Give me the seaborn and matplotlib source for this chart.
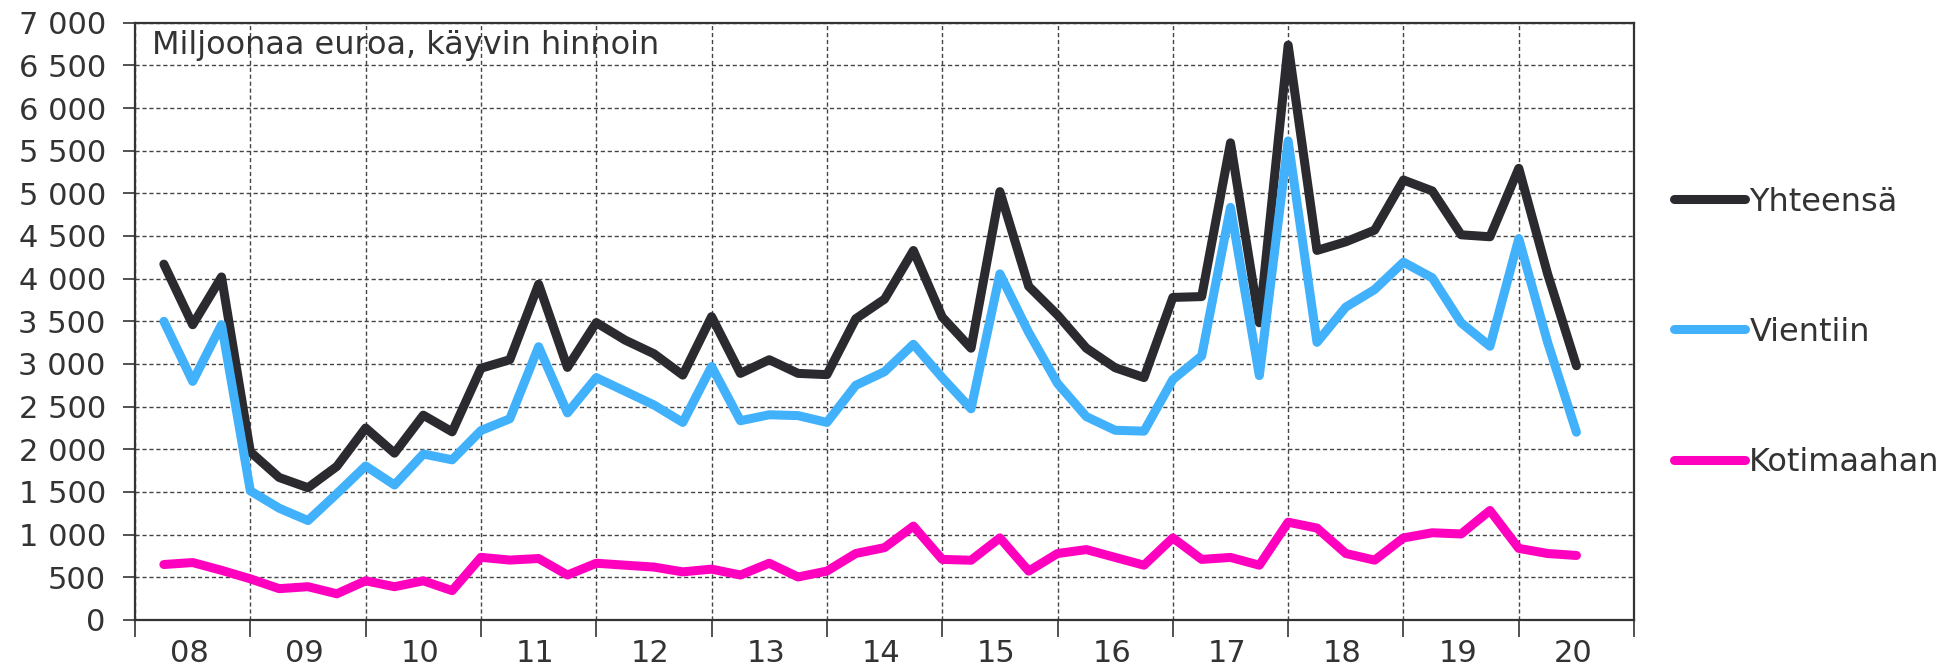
import numpy as np
import pandas as pd
import matplotlib
matplotlib.use("Agg")
import matplotlib.pyplot as plt
import seaborn as sns

# vuosineljännekset 2008Q1 - 2020Q2, milj. euroa
years = ["08", "09", "10", "11", "12", "13", "14", "15", "16", "17", "18", "19", "20"]

yhteensa = [4170, 3460, 4020, 1970, 1670, 1550, 1800, 2250, 1955, 2400,
            2205, 2950, 3050, 3935, 2960, 3485, 3280, 3120, 2870, 3555,
            2890, 3050, 2890, 2875, 3530, 3760, 4330, 3550, 3185, 5020,
            3910, 3575, 3185, 2956, 2841, 3780, 3790, 5592, 3483, 6737,
            4331, 4432, 4569, 5156, 5028, 4514, 4491, 5293, 4056, 2979]

vientiin = [3500, 2796, 3460, 1513, 1310, 1165, 1480, 1805, 1582, 1945,
            1877, 2220, 2358, 3202, 2427, 2840, 2680, 2520, 2315, 2970,
            2335, 2405, 2395, 2315, 2750, 2910, 3231, 2840, 2475, 4056,
            3369, 2772, 2383, 2223, 2213, 2818, 3094, 4835, 2864, 5614,
            3254, 3667, 3873, 4193, 4010, 3483, 3208, 4469, 3254, 2200]

kotimaahan = [650, 673, 582, 482, 367, 390, 307, 459, 390, 459,
              344, 734, 702, 720, 527, 665, 642, 620, 564, 596,
              527, 665, 504, 573, 779, 848, 1100, 710, 700, 962,
              573, 779, 825, 733, 642, 962, 710, 733, 642, 1146,
              1077, 779, 701, 962, 1022, 1008, 1283, 839, 779, 756]

series = ["Yhteensä", "Vientiin", "Kotimaahan"]
colors = ["#2a2a2f", "#42b1fb", "#ff00bf"]

x = np.arange(1, len(yhteensa) + 1)
df = pd.DataFrame({"x": x, "Yhteensä": yhteensa, "Vientiin": vientiin,
                   "Kotimaahan": kotimaahan})
df = df.melt(id_vars="x", var_name="sarja", value_name="arvo")

sns.set_style("white")
plt.rcParams['font.family'] = ['DejaVu Sans']

fig = plt.figure(figsize=(19.57, 6.67), dpi=100)
ax = fig.add_axes([0.069, 0.0705, 0.766, 0.8955])

sns.lineplot(data=df, x="x", y="arvo", hue="sarja", hue_order=series,
             palette=colors, linewidth=6.5, ax=ax, legend=False,
             solid_capstyle="round")

ax.set_xlim(0, 4 * len(years))
ax.set_ylim(0, 7000)
ax.set_xlabel("")
ax.set_ylabel("")

# y-akseli
yt = np.arange(0, 7001, 500)
ax.set_yticks(yt)
ax.set_yticklabels([f"{v:,}".replace(",", " ") for v in yt])
ax.tick_params(axis="y", which="major", direction="out", length=9, width=1.2,
               color="#333333", labelsize=22, labelcolor="#333333", pad=12, left=True)

# x-akseli: vuosirajat ja vuosien nimet
ax.set_xticks(np.arange(0, 4 * len(years) + 1, 4))
ax.set_xticklabels([])
ax.set_xticks(np.arange(1.88, 4 * len(years), 4), minor=True)
ax.set_xticklabels(years, minor=True)
ax.tick_params(axis="x", which="major", direction="out", length=12, width=1.2,
               color="#333333", bottom=True)
ax.tick_params(axis="x", which="minor", length=0, labelsize=22,
               labelcolor="#333333", pad=14)

ax.grid(True, which="major", axis="both", linestyle=(0, (3, 2)),
        color="#444444", linewidth=1)
for s in ax.spines.values():
    s.set_color("#333333")
    s.set_linewidth(1.6)

ax.text(0.011, 0.962, "Miljoonaa euroa, käyvin hinnoin", transform=ax.transAxes,
        fontsize=23, color="#333333", va="center", ha="left")

handles = [plt.Line2D([], [], color=c, linewidth=6.5, solid_capstyle="round")
           for c in colors]
fig.legend(handles, series, loc="center left", bbox_to_anchor=(0.847, 0.502),
           frameon=False, fontsize=23, handlelength=2.25, handletextpad=0.12,
           labelspacing=3.1, borderpad=0, labelcolor="#333333")

plt.savefig("out.png", dpi=100)
plt.close()
